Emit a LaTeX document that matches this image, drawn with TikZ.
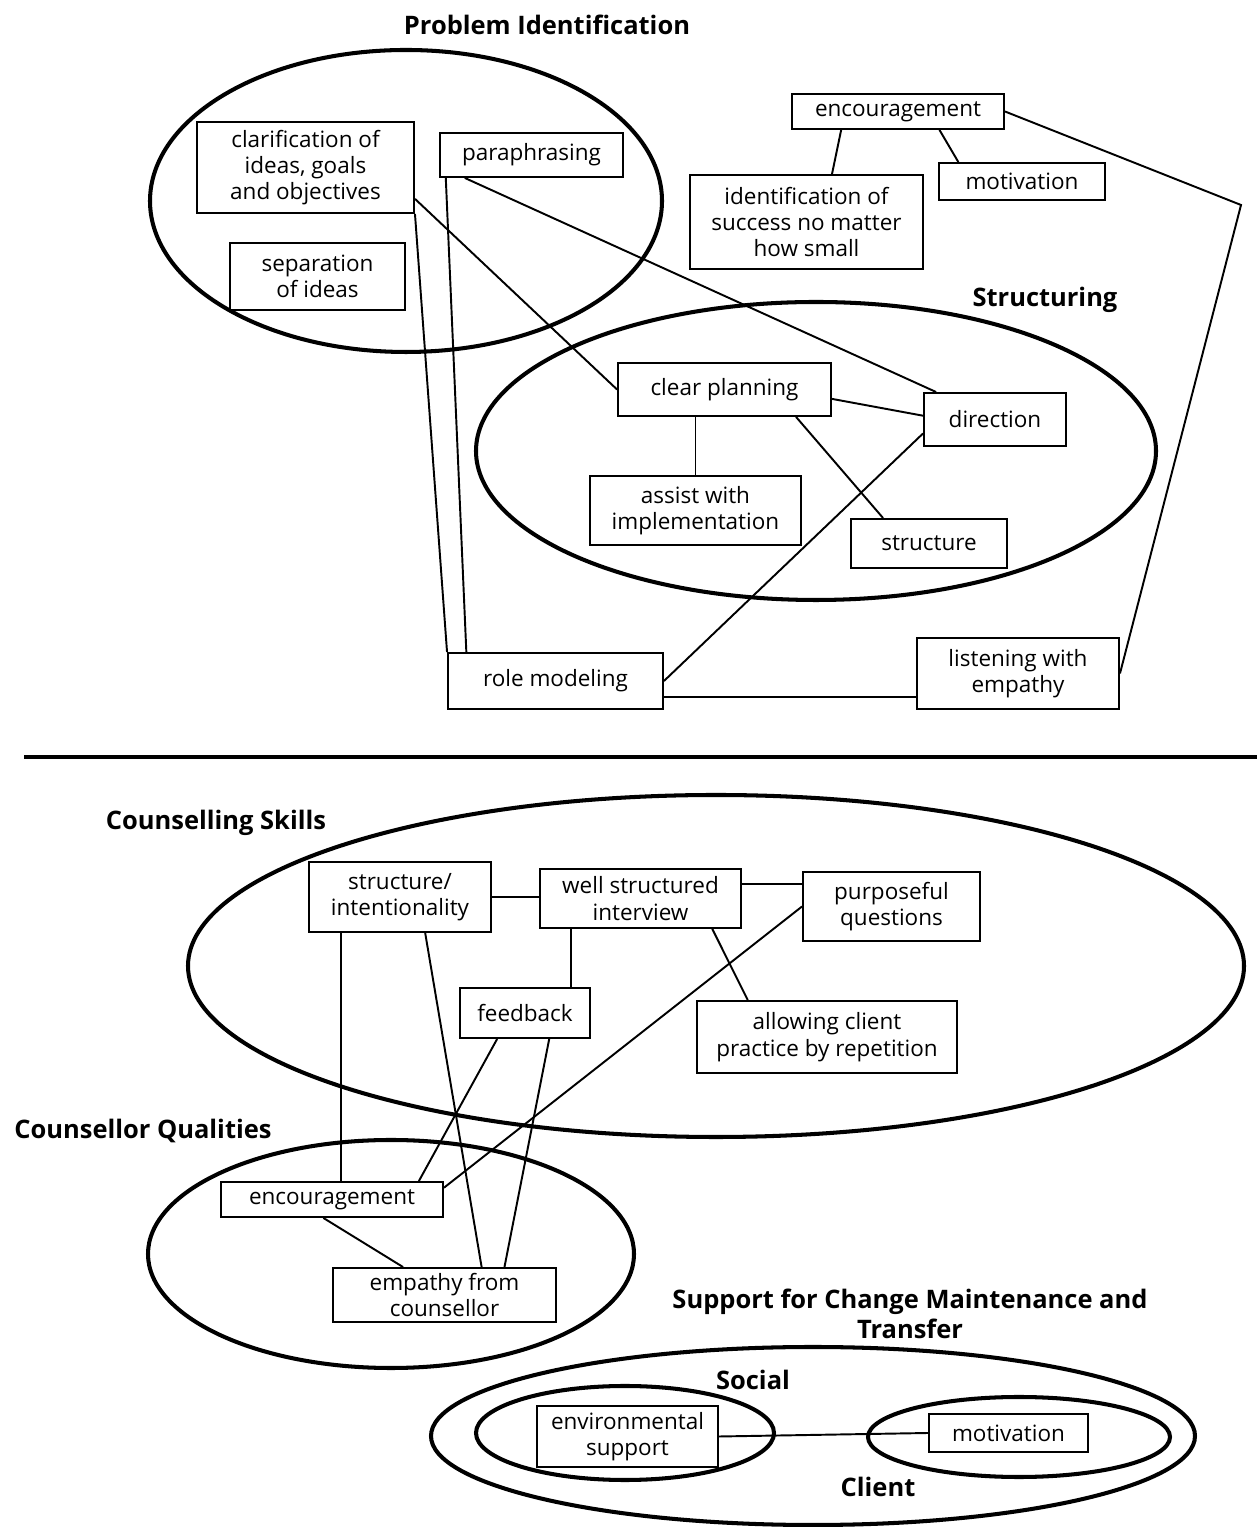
\documentclass[tikz,border=0pt]{standalone}
\usepackage{fontspec}
\setmainfont{Open Sans}
\begin{document}
\begin{tikzpicture}[
	box/.style={draw, rectangle, line width=1.1pt, align=center, inner sep=2pt, font=\fontsize{12.8}{15}\selectfont},
	heading/.style={font=\fontsize{14.5}{17}\selectfont\bfseries, align=center},
	region/.style={line width=2.3pt},
	link/.style={line width=1.1pt}
	]
			\useasboundingbox (0,0) rectangle (25.14,30.54);
			
			% upper half
			\node   (pid) at (10.94,30.04) [heading] {Problem Identification};
			\node   (str) at (20.90,24.54) [heading] {Structuring};
			\draw [region] (8.12,26.52) ellipse [x radius=5.12cm, y radius=3.02cm];
			\draw [region] (16.32,21.52) ellipse [x radius=6.80cm, y radius=2.98cm];
			
			\node	(clar) at (6.11,27.19) [box, minimum width=4.34cm, minimum height=1.82cm] {clarification of\\ideas, goals\\and objectives};
			\node	(para) at (10.63,27.44) [box, minimum width=3.66cm, minimum height=0.88cm] {paraphrasing};
			\node	(sep) at (6.35,25.01) [box, minimum width=3.50cm, minimum height=1.34cm] {separation\\of ideas};
			\node	(enc) at (17.96,28.31) [box, minimum width=4.24cm, minimum height=0.70cm] {encouragement};
			\node	(mot) at (20.44,26.91) [box, minimum width=3.32cm, minimum height=0.74cm] {motivation};
			\node	(ident) at (16.13,26.10) [box, minimum width=4.66cm, minimum height=1.88cm] {identification of\\success no matter\\how small};
			\node	(plan) at (14.49,22.75) [box, minimum width=4.26cm, minimum height=1.06cm] {clear planning};
			\node	(dir) at (19.90,22.15) [box, minimum width=2.84cm, minimum height=1.06cm] {direction};
			\node	(assist) at (13.91,20.33) [box, minimum width=4.22cm, minimum height=1.38cm] {assist with\\implementation};
			\node	(struct) at (18.58,19.67) [box, minimum width=3.12cm, minimum height=0.98cm] {structure};
			\node	(role) at (11.11,16.92) [box, minimum width=4.30cm, minimum height=1.12cm] {role modeling};
			\node	(listen) at (20.36,17.07) [box, minimum width=4.04cm, minimum height=1.42cm] {listening with\\empathy};
			\coordinate (bend) at (24.82,26.44);
			
			\draw [link]
			(enc.198) edge (ident.62)
			(enc.-24) edge (mot.163)
			(clar.-16) edge (plan.west)
			(para.199) edge (dir.155)
			(plan.-5) edge (dir.177)
			(assist.north |- plan.south) edge (assist.north)
			(plan.-21) edge (struct.151)
			(dir.191) edge (role.east)
			([yshift=-0.32cm]role.east) edge ([yshift=-0.32cm]role.east -| listen.west)
			(clar.south east) edge (role.north west)
			(para.195) edge (role.162)
			;
			\draw [link] (enc.east) -- (bend) -- (listen.east);
			
			\draw [line width=2.3pt] (0.48,15.40) -- (25.14,15.40);
			
			% lower half
			\node   (cs) at (4.32,14.08) [heading] {Counselling Skills};
			\node   (cq) at (2.86,7.92) [heading] {Counsellor Qualities};
			\node   (scm) at (18.20,4.26) [heading] {Support for Change Maintenance and\\Transfer};
			\node   (soc) at (15.06,2.94) [heading] {Social};
			\node   (cli) at (17.56,0.80) [heading] {Client};
			\draw [region] (14.32,11.22) ellipse [x radius=10.56cm, y radius=3.42cm];
			\draw [region] (7.82,5.46) ellipse [x radius=4.86cm, y radius=2.28cm];
			\draw [region] (16.26,1.82) ellipse [x radius=7.64cm, y radius=1.78cm];
			\draw [region] (12.50,1.88) ellipse [x radius=2.98cm, y radius=0.94cm];
			\draw [region] (20.38,1.80) ellipse [x radius=3.02cm, y radius=0.80cm];
			
			\node	(sint) at (8.00,12.60) [box, minimum width=3.64cm, minimum height=1.40cm] {structure/\\intentionality};
			\node	(wsi) at (12.81,12.57) [box, minimum width=4.02cm, minimum height=1.18cm] {well structured\\interview};
			\node	(pq) at (17.83,12.41) [box, minimum width=3.54cm, minimum height=1.38cm] {purposeful\\questions};
			\node	(fb) at (10.50,10.28) [box, minimum width=2.60cm, minimum height=1.00cm] {feedback};
			\node	(allow) at (16.54,9.80) [box, minimum width=5.20cm, minimum height=1.44cm] {allowing client\\practice by repetition};
			\node	(enc2) at (6.64,6.55) [box, minimum width=4.44cm, minimum height=0.70cm] {encouragement};
			\node	(emp) at (8.89,4.64) [box, minimum width=4.46cm, minimum height=1.08cm] {empathy from\\counsellor};
			\node	(env) at (12.55,1.81) [box, minimum width=3.62cm, minimum height=1.22cm] {environmental\\support};
			\node	(mot2) at (20.17,1.88) [box, minimum width=3.18cm, minimum height=0.76cm] {motivation};
			
			\draw [link]
			(sint.east) edge (sint.east -| wsi.west)
			([yshift=0.29cm]wsi.east) edge ([yshift=0.29cm]wsi.east -| pq.west)
			([xshift=-1.39cm]wsi.south) edge ([xshift=-1.39cm]wsi.south |- fb.north)
			(wsi.-23) edge (allow.155)
			(pq.west) edge (enc2.6)
			([xshift=-1.18cm]sint.south) edge ([xshift=-1.18cm]sint.south |- enc2.north)
			(sint.-55) edge (emp.37)
			(fb.223) edge (enc2.12)
			(fb.-47) edge (emp.25)
			(enc2.245) edge (emp.146)
			(env.east) edge (mot2.west)
			;
		\end{tikzpicture}
\end{document}
